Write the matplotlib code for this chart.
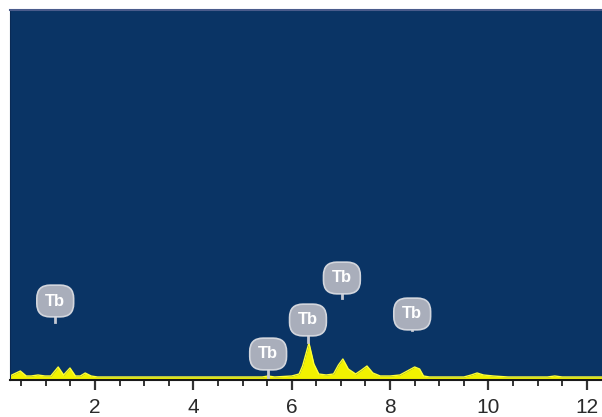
import matplotlib
matplotlib.use("Agg")
import matplotlib.pyplot as plt
from matplotlib.ticker import MultipleLocator

# EDS spectrum (energy keV, counts in arbitrary units)
energy = [0.27, 0.35, 0.48, 0.6, 0.7, 0.84, 0.98, 1.1, 1.25, 1.36, 1.49, 1.6,
          1.7, 1.8, 1.92, 2.05, 2.5, 3.0, 3.5, 4.0, 4.5, 5.0, 5.4, 5.52, 5.65,
          6.0, 6.15, 6.22, 6.35, 6.45, 6.55, 6.7, 6.85, 6.95, 7.04, 7.15, 7.3,
          7.42, 7.53, 7.65, 7.8, 8.0, 8.2, 8.35, 8.5, 8.6, 8.68, 8.8, 9.5,
          9.65, 9.77, 9.9, 10.1, 10.4, 11.2, 11.35, 11.5, 12.31]
counts = [4, 6, 9, 4, 4, 5, 4, 4, 13, 5, 12, 4,
          4, 7, 4, 3, 3, 3, 3, 3, 3, 3, 3, 4, 3,
          4, 6, 14, 37, 16, 6, 5, 6, 15, 21, 11, 6,
          10, 14, 7, 4, 4, 5, 9, 13, 11, 4, 3, 3,
          5, 7, 5, 4, 3, 3, 4, 3, 3]

# Tb markers: (energy, label height, pin end height)
tb_x = [1.19, 5.52, 6.33, 7.02, 8.45]
tb_label_y = [79, 26, 60, 102, 66]
tb_pin_y = [58, 3, 38, 82, 50]

fig = plt.figure(figsize=(6.02, 4.17), dpi=100)
ax = fig.add_axes([10 / 602, 37 / 417, 592 / 602, 370 / 417])
ax.set_facecolor("#0a3465")

ax.fill_between(energy, 0, counts, color="#f2f200", lw=0)
ax.plot(energy, counts, color="#ffff33", lw=1)

for x, ly, py in zip(tb_x, tb_label_y, tb_pin_y):
    ax.plot([x, x], [py, ly], color="#c4c8d2", lw=2, zorder=3)
    ax.text(x, ly, "Tb", ha="center", va="center", color="white",
            fontsize=12, fontweight="bold", family="Liberation Sans", zorder=4,
            bbox=dict(boxstyle="round,pad=0.5,rounding_size=0.8",
                      fc="#a9aebb", ec="#d3d6dd", lw=1.2))

ax.set_xlim(0.27, 12.31)
ax.set_ylim(0, 370)
ax.xaxis.set_major_locator(MultipleLocator(2))
ax.xaxis.set_minor_locator(MultipleLocator(0.5))
ax.tick_params(axis="x", which="major", direction="out", length=7, width=1.6,
               color="#333333", labelsize=15, labelcolor="#2a2a2a", pad=6)
ax.tick_params(axis="x", which="minor", direction="out", length=4, width=1.4,
               color="#333333")
ax.set_yticks([])
for lab in ax.get_xticklabels():
    lab.set_family("Liberation Sans")

ax.spines["bottom"].set_color("#1a1a1a")
ax.spines["bottom"].set_linewidth(1.5)
ax.spines["left"].set_color("#0a2a55")
ax.spines["top"].set_color("#4a5c8c")
ax.spines["top"].set_linewidth(1.5)
ax.spines["right"].set_visible(False)

fig.savefig("out.png", dpi=100)
